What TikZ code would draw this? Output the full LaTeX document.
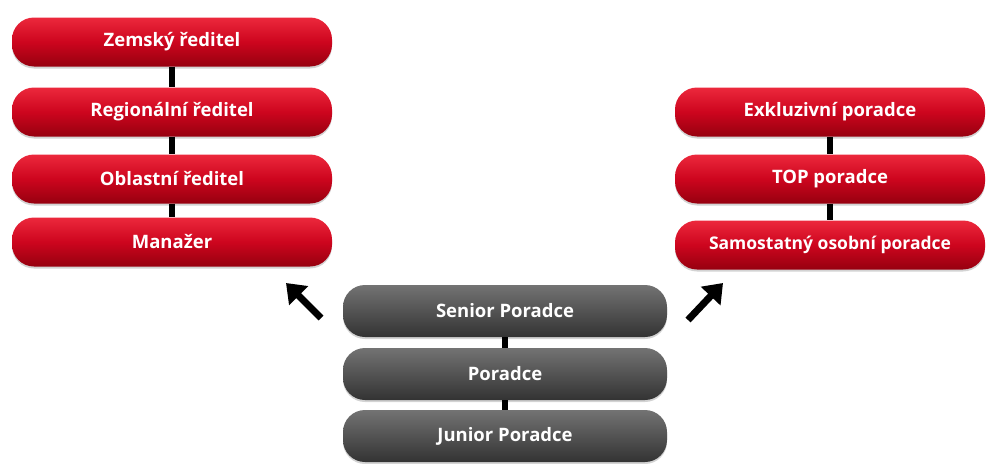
\documentclass[tikz,border=0pt]{standalone}
\usepackage{fontspec}
\setmainfont{Open Sans}
\usetikzlibrary{arrows.meta,shadows}
\definecolor{rtop}{RGB}{236,40,60}
\definecolor{rmid}{RGB}{205,5,30}
\definecolor{rbot}{RGB}{150,0,15}
\begin{document}
\begin{tikzpicture}[x=1pt,y=-1pt,
  redbox/.style={rectangle, rounded corners=22pt, minimum width=320pt, minimum height=49pt,
    top color=rtop, bottom color=rbot, middle color=rmid,
    draw=none, text=white, font=\bfseries\fontsize{18.5}{20}\selectfont,
    drop shadow={shadow xshift=0pt, shadow yshift=-2pt, opacity=0.35}},
  graybox/.style={redbox, minimum width=324pt, minimum height=52pt,
    top color=black!55, middle color=black!65, bottom color=black!80},
  link/.style={line width=6pt, black},
  bigarrow/.style={line width=7pt, -{Triangle[length=18pt,width=26pt]}}]
\useasboundingbox (0,0) rectangle (990,463);
\node[redbox] (z) at (172,42) {Zemský ředitel};
\node[redbox] (r) at (172,112) {Regionální ředitel};
\node[redbox] (o) at (172,179) {Oblastní ředitel};
\node[redbox] (m) at (172,242) {Manažer};
\node[redbox, minimum width=310pt] (e) at (830,112) {Exkluzivní poradce};
\node[redbox, minimum width=310pt] (t) at (830,179) {TOP poradce};
\node[redbox, minimum width=310pt, font=\bfseries\fontsize{17.5}{20}\selectfont] (s) at (830,245) {Samostatný osobní poradce};
\node[graybox] (sp) at (505,311) {Senior Poradce};
\node[graybox] (p) at (505,374) {Poradce};
\node[graybox] (j) at (505,436) {Junior Poradce};
\draw[link] (z.south) -- (r.north);
\draw[link] (r.south) -- (o.north);
\draw[link] (o.south) -- (m.north);
\draw[link] (e.south) -- (t.north);
\draw[link] (t.south) -- (s.north);
\draw[link] (sp.south) -- (p.north);
\draw[link] (p.south) -- (j.north);
\coordinate (la) at (321,318);
\coordinate (lb) at (286,283);
\coordinate (ra) at (688,320);
\coordinate (rb) at (723,283);
\draw[bigarrow] (la) -- (lb);
\draw[bigarrow] (ra) -- (rb);
\end{tikzpicture}
\end{document}
